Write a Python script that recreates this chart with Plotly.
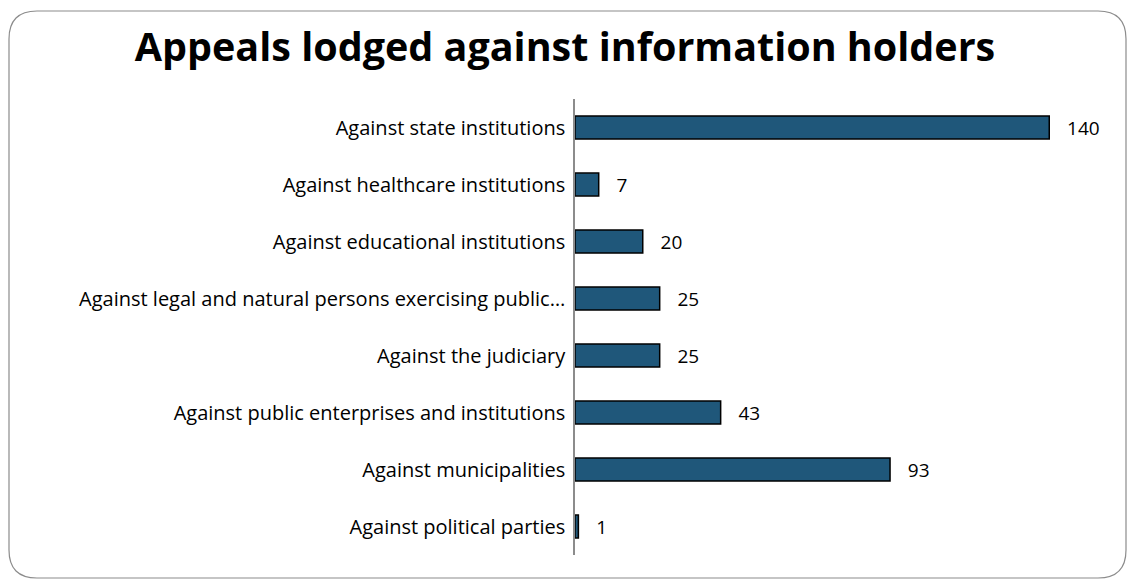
import plotly.graph_objects as go

categories = [
    "Against state institutions",
    "Against healthcare institutions",
    "Against educational institutions",
    "Against legal and natural persons exercising public…",
    "Against the judiciary",
    "Against public enterprises and institutions",
    "Against municipalities",
    "Against political parties",
]
values = [140, 7, 20, 25, 25, 43, 93, 1]

W, H = 1131, 580
ML, MR, MT, MB = 575, 14, 99, 25
PW, PH = W - ML - MR, H - MT - MB
FONT = "Open Sans"


def px(x):
    return (x - ML) / PW


def py(y):
    return 1 - (y - MT) / PH


fig = go.Figure()
fig.add_trace(go.Bar(
    y=categories, x=values, orientation="h",
    marker=dict(color="#1f577a", line=dict(color="#000000", width=1.5)),
    text=values, texttemplate="   %{x}", textposition="outside",
    textfont=dict(family=FONT, size=19, color="#000000"),
    cliponaxis=False, constraintext="none",
))

# rounded frame
x0, y0, x1, y1, r = 9, 11, 1126, 578, 28
path = (f"M {px(x0)},{py(y0 + r)} "
        f"Q {px(x0)},{py(y0)} {px(x0 + r)},{py(y0)} "
        f"L {px(x1 - r)},{py(y0)} "
        f"Q {px(x1)},{py(y0)} {px(x1)},{py(y0 + r)} "
        f"L {px(x1)},{py(y1 - r)} "
        f"Q {px(x1)},{py(y1)} {px(x1 - r)},{py(y1)} "
        f"L {px(x0 + r)},{py(y1)} "
        f"Q {px(x0)},{py(y1)} {px(x0)},{py(y1 - r)} Z")

fig.update_layout(
    width=W, height=H,
    margin=dict(l=ML, r=MR, t=MT, b=MB),
    paper_bgcolor="white", plot_bgcolor="white",
    title=dict(text="<b>Appeals lodged against information holders</b>",
               x=565 / W, xref="container", xanchor="center",
               y=1 - 47 / H, yref="container", yanchor="middle",
               font=dict(family=FONT, size=39.5, color="#000000")),
    showlegend=False,
    bargap=0.6,
    xaxis=dict(range=[0, 160], visible=False, fixedrange=True),
    yaxis=dict(autorange="reversed", showline=True, linecolor="#8c8c8c",
               linewidth=1.5, ticks="", showgrid=False,
               tickfont=dict(family=FONT, size=20, color="#000000"),
               ticklabelstandoff=4),
    shapes=[dict(type="path", path=path, xref="paper", yref="paper",
                 line=dict(color="#8c8c8c", width=1.2), layer="below")],
)
fig.write_html("out.html", config={"displayModeBar": False},
               post_script="document.body.style.margin='0';")
